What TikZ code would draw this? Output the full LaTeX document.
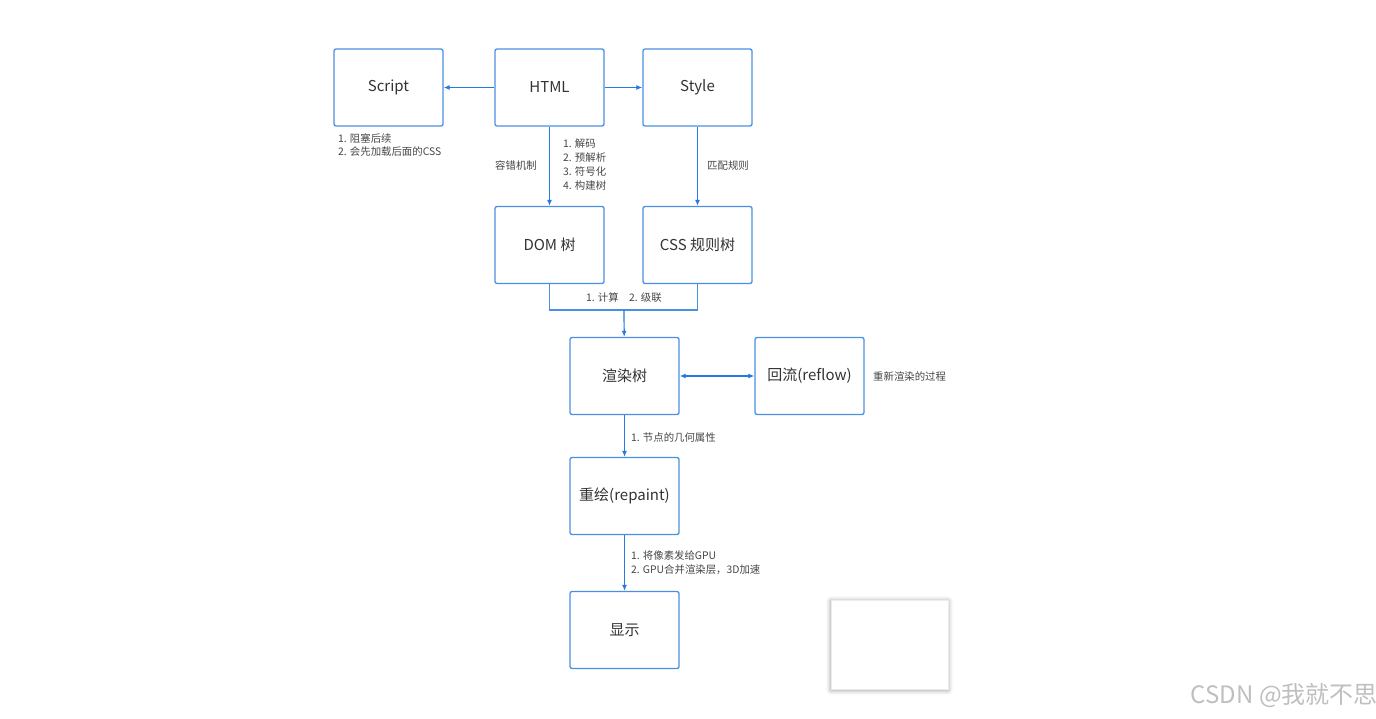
\documentclass[tikz,border=0pt]{standalone}
\usepackage{fontspec}
\setmainfont{Noto Sans CJK SC}
\usetikzlibrary{arrows.meta}
\definecolor{boxc}{RGB}{74,144,226}
\definecolor{arrc}{RGB}{40,120,225}
\definecolor{txt}{RGB}{51,51,51}
\definecolor{lbl}{RGB}{70,70,70}
\begin{document}
\begin{tikzpicture}[x=1pt,y=-1pt,
  box/.style={draw=boxc,line width=1.3pt,rounded corners=2pt,minimum width=109pt,minimum height=77pt,inner sep=0pt,font=\fontsize{15}{17}\selectfont,text=txt},
  conn/.style={draw=arrc,line width=1.2pt,-{Latex[length=6pt,width=5pt]}},
  conn2/.style={draw=arrc,line width=1.2pt,{Latex[length=6pt,width=5pt]}-{Latex[length=6pt,width=5pt]}},
  line/.style={draw=boxc,line width=1.2pt},
  lab/.style={font=\fontsize{10.4}{13.8}\selectfont,text=lbl,inner sep=0pt,align=left}]
\useasboundingbox (0,0) rectangle (1376,719);
\node[box] (script) at (388.5,87.5) {Script};
\node[box] (html) at (549.5,87.5) {HTML};
\node[box] (style) at (697.5,87.5) {Style};
\node[box] (dom) at (549.5,245) {DOM 树};
\node[box] (css) at (697.5,245) {CSS 规则树};
\node[box] (render) at (624.5,376) {渲染树};
\node[box] (reflow) at (809.5,376) {回流(reflow)};
\node[box] (repaint) at (624.5,496) {重绘(repaint)};
\node[box] (show) at (624.5,630) {显示};
\foreach \s/\o in {5/0.02,4/0.03,3/0.04,2/0.05,1/0.07}{
  \fill[black,opacity=\o,rounded corners=\s pt] (831-\s,600-\s+1) rectangle (948+\s,689+\s+1);
}
\node[draw=gray!15,line width=0.3pt,fill=white,minimum width=117pt,minimum height=89pt,inner sep=0pt] (blank) at (889.5,644.5) {};
\draw[conn] (html) -- (script);
\draw[conn] (html) -- (style);
\draw[conn] (html) -- (dom);
\draw[conn] (style) -- (css);
\coordinate (mid) at (624,310);
\draw[line] (dom.south) |- (mid) -| (css.south);
\draw[conn] (mid) -- (render);
\draw[conn2] (render) -- (reflow);
\draw[conn] (render) -- (repaint);
\draw[conn] (repaint) -- (show);
\node[lab,anchor=north west] (l1) at (338,133) {1. 阻塞后续\\2. 会先加载后面的CSS};
\node[lab,anchor=east] (l2) at (537,166) {容错机制};
\node[lab,anchor=north west] (l3) at (563,139) {1. 解码\\2. 预解析\\3. 符号化\\4. 构建树};
\node[lab,anchor=west] (l4) at (707,166) {匹配规则};
\node[lab,anchor=west] (l5) at (586,298) {1. 计算\quad 2. 级联};
\node[lab,anchor=west] (l6) at (873,377) {重新渲染的过程};
\node[lab,anchor=west] (l7) at (631,438) {1. 节点的几何属性};
\node[lab,anchor=north west] (l8) at (631,551) {1. 将像素发给GPU\\2. GPU合并渲染层，3D加速};
\node[anchor=east,inner sep=0pt,text=gray!50,font=\fontsize{24}{26}\selectfont] (wm) at (1378,695) {CSDN @我就不思};
\end{tikzpicture}
\end{document}
